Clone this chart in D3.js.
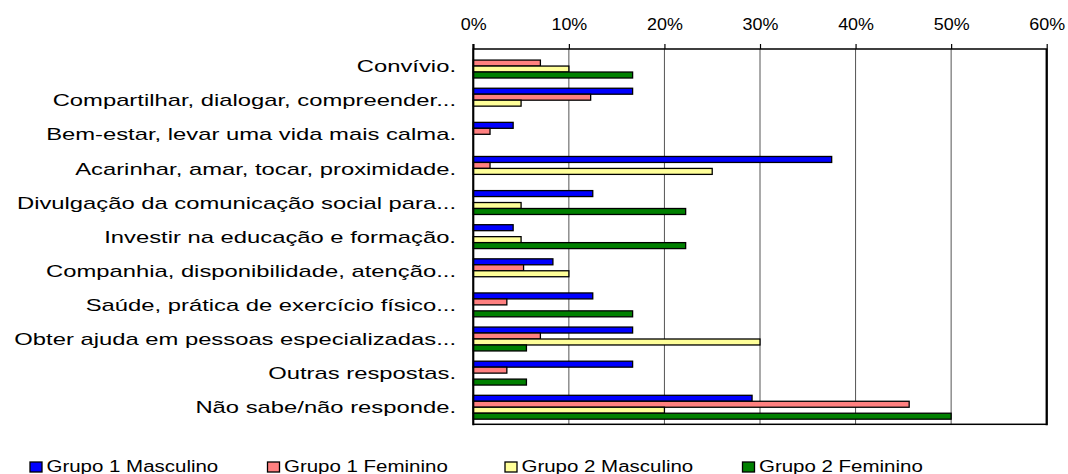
<!DOCTYPE html>
<html>
<head>
<meta charset="utf-8">
<script src="https://cdn.jsdelivr.net/npm/d3@7"></script>
<style>
  body { margin: 0; background: #fff; }
  svg { display: block; font-family: "Liberation Sans", Arial, sans-serif; }
</style>
</head>
<body>
<svg id="chart" width="1068" height="474"></svg>
<script>
// categories (top to bottom)
const categories = [
  "Convívio.",
  "Compartilhar, dialogar, compreender...",
  "Bem-estar, levar uma vida mais calma.",
  "Acarinhar, amar, tocar, proximidade.",
  "Divulgação da comunicação social para...",
  "Investir na educação e formação.",
  "Companhia, disponibilidade, atenção...",
  "Saúde, prática de exercício físico...",
  "Obter ajuda em pessoas especializadas...",
  "Outras respostas.",
  "Não sabe/não responde."
];

const seriesNames = ["Grupo 1 Masculino", "Grupo 1 Feminino", "Grupo 2 Masculino", "Grupo 2 Feminino"];

// values in %
const grupo1Masculino = [0, 16.67, 4.17, 37.5, 12.5, 4.17, 8.33, 12.5, 16.67, 16.67, 29.17];
const grupo1Feminino  = [7.02, 12.28, 1.75, 1.75, 0, 0, 5.26, 3.51, 7.02, 3.51, 45.61];
const grupo2Masculino = [10, 5, 0, 25, 5, 5, 10, 0, 30, 0, 20];
const grupo2Feminino  = [16.67, 0, 0, 0, 22.22, 22.22, 0, 16.67, 5.56, 5.56, 50];

const xTicks = [0, 10, 20, 30, 40, 50, 60];

const seriesValues = [grupo1Masculino, grupo1Feminino, grupo2Masculino, grupo2Feminino];
const colors = ["#0000ff", "#ff8080", "#ffff99", "#008000"];

const svg = d3.select("#chart");

const plot = { left: 473.3, right: 1046.7, top: 49, bottom: 424.3 };

// scales
const x = d3.scaleLinear()
  .domain([0, 60])
  .range([plot.left, plot.right]);

const y = d3.scaleBand()
  .domain(categories)
  .range([plot.top, plot.bottom])
  .paddingInner(0.3)
  .paddingOuter(0.15);

const ySeries = d3.scaleBand()
  .domain(seriesNames)
  .range([0, y.bandwidth()]);

// gridlines
svg.append("g")
  .selectAll("line")
  .data(xTicks.slice(1, -1))
  .join("line")
  .attr("x1", d => x(d))
  .attr("x2", d => x(d))
  .attr("y1", plot.top)
  .attr("y2", plot.bottom)
  .attr("stroke", "#555")
  .attr("stroke-width", 1);

// top axis
const topAxis = d3.axisTop(x)
  .tickValues(xTicks)
  .tickSize(5)
  .tickPadding(14)
  .tickFormat(d => d + "%");

const gx = svg.append("g")
  .attr("transform", `translate(0,${plot.top})`)
  .call(topAxis);

gx.select(".domain").remove();
gx.selectAll(".tick line").attr("stroke", "#000").attr("stroke-width", 1.2);
gx.selectAll(".tick text")
  .attr("font-family", "Liberation Sans, Arial, sans-serif")
  .attr("font-size", 16)
  .attr("fill", "#000")
  .attr("transform", "scale(1.12,1)");

// bars
const rows = categories.map((c, i) => ({
  category: c,
  values: seriesNames.map((s, j) => ({ series: s, value: seriesValues[j][i], color: colors[j] }))
}));

svg.append("g")
  .selectAll("g")
  .data(rows)
  .join("g")
  .attr("transform", d => `translate(0,${y(d.category)})`)
  .selectAll("rect")
  .data(d => d.values.filter(v => v.value > 0))
  .join("rect")
  .attr("x", x(0))
  .attr("y", d => ySeries(d.series))
  .attr("width", d => x(d.value) - x(0))
  .attr("height", ySeries.bandwidth())
  .attr("fill", d => d.color)
  .attr("stroke", "#000")
  .attr("stroke-width", 1.3);

// plot frame
svg.append("rect")
  .attr("x", plot.left)
  .attr("y", plot.top)
  .attr("width", plot.right - plot.left)
  .attr("height", plot.bottom - plot.top)
  .attr("fill", "none")
  .attr("stroke", "#000")
  .attr("stroke-width", 1.5);

svg.append("line")
  .attr("x1", plot.right)
  .attr("x2", plot.right)
  .attr("y1", plot.top)
  .attr("y2", plot.bottom + 1)
  .attr("stroke", "#000")
  .attr("stroke-width", 2.2);

svg.append("line")
  .attr("x1", plot.left)
  .attr("x2", plot.left)
  .attr("y1", plot.top - 5)
  .attr("y2", plot.bottom + 1)
  .attr("stroke", "#000")
  .attr("stroke-width", 2);

// category labels
svg.append("g")
  .selectAll("g")
  .data(categories)
  .join("g")
  .attr("transform", d => `translate(456,${y(d) + y.bandwidth() / 2}) scale(1.4,1)`)
  .append("text")
  .attr("text-anchor", "end")
  .attr("dy", "0.36em")
  .attr("font-size", 17)
  .attr("fill", "#000")
  .text(d => d);

// legend
const legend = svg.append("g")
  .selectAll("g")
  .data(seriesNames)
  .join("g")
  .attr("transform", (d, i) => `translate(${29.5 + i * 237.5},0)`);

legend.append("rect")
  .attr("x", 0.5)
  .attr("y", 462)
  .attr("width", 12)
  .attr("height", 10)
  .attr("fill", (d, i) => colors[i])
  .attr("stroke", "#000")
  .attr("stroke-width", 1.3);

legend.append("g")
  .attr("transform", "translate(17,472) scale(1.28,1)")
  .append("text")
  .attr("font-size", 16)
  .attr("fill", "#000")
  .text(d => d);
</script>
</body>
</html>
